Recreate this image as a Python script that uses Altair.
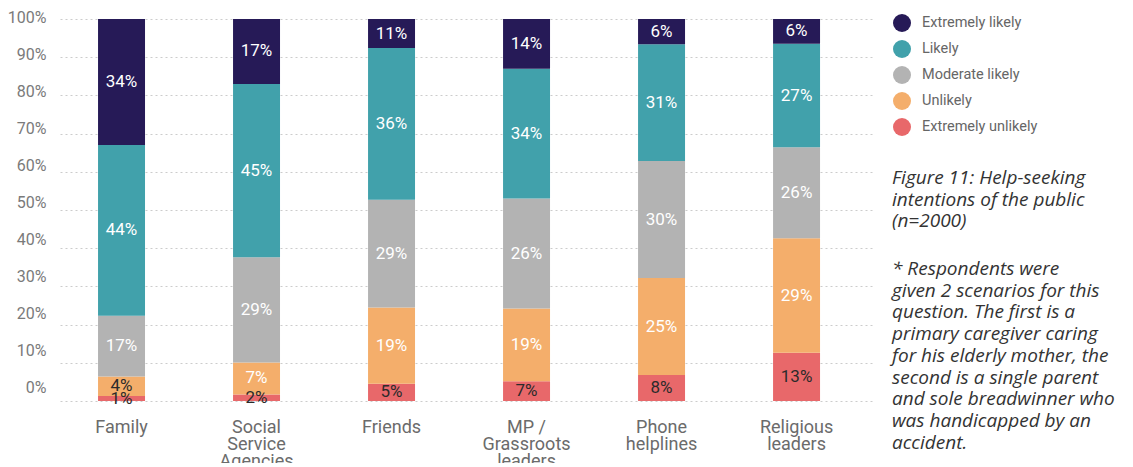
import altair as alt
import pandas as pd

# ---- data ----
sources = ["Family", "Social\nService\nAgencies", "Friends",
           "MP /\nGrassroots\nleaders", "Phone\nhelplines", "Religious\nleaders"]
responses = ["Extremely unlikely", "Unlikely", "Moderate likely", "Likely", "Extremely likely"]  # bottom -> top

# segment heights as drawn (share of each bar, %)
height_extremely_unlikely = [1.3, 1.7, 4.5, 5.2, 6.8, 12.6]
height_unlikely = [5.1, 8.4, 20.0, 19.0, 25.4, 30.0]
height_moderate_likely = [15.9, 27.5, 28.2, 28.8, 30.6, 23.8]
height_likely = [44.7, 45.4, 39.7, 34.0, 30.6, 27.1]
height_extremely_likely = [33.0, 17.0, 7.6, 13.0, 6.6, 6.5]

# percentages printed on the segments
label_extremely_unlikely = [1, 2, 5, 7, 8, 13]
label_unlikely = [4, 7, 19, 19, 25, 29]
label_moderate_likely = [17, 29, 29, 26, 30, 26]
label_likely = [44, 45, 36, 34, 31, 27]
label_extremely_likely = [34, 17, 11, 14, 6, 6]

colors = ["#e8686a", "#f4ae6b", "#b3b3b3", "#41a1ab", "#261a57"]
legend_order = list(reversed(responses))  # top -> bottom in legend
y_ticks = [0, 0.1, 0.2, 0.3, 0.4, 0.5, 0.6, 0.7, 0.8, 0.9, 1.0]

caption1 = ["Figure 11: Help-seeking", "intentions of the public", "(n=2000)"]
caption2 = ["* Respondents were", "given 2 scenarios for this", "question. The first is a",
            "primary caregiver caring", "for his elderly mother, the",
            "second is a single parent", "and sole breadwinner who",
            "was handicapped by an", "accident."]

heights = [height_extremely_unlikely, height_unlikely, height_moderate_likely,
           height_likely, height_extremely_likely]
label_vals = [label_extremely_unlikely, label_unlikely, label_moderate_likely,
              label_likely, label_extremely_likely]
rows = []
for oi, resp in enumerate(responses):
    for si, src in enumerate(sources):
        rows.append({"source": src, "response": resp, "share": heights[oi][si],
                     "value": label_vals[oi][si], "order": oi})
df = pd.DataFrame(rows)
legend_df = pd.DataFrame({"response": legend_order})
tick_df = pd.DataFrame({"tick": y_ticks})

color_scale = alt.Scale(domain=responses, range=colors)
FONT = "Roboto"

y_scale = alt.Scale(domain=[0, 1], nice=False)
# grid-only axis for the bars
y_axis = alt.Axis(values=y_ticks, labels=False, domain=False, ticks=False, orient="left",
                  gridColor="#cccccc", gridDash=[2, 3], gridWidth=1)

x_enc = alt.X("source:N", sort=sources, title=None,
              scale=alt.Scale(paddingInner=0.652, paddingOuter=0.337, align=0.418),
              axis=alt.Axis(labelAngle=0, domain=False, ticks=False,
                            labelExpr="split(datum.label, '\\n')",
                            labelFont=FONT, labelFontSize=18, labelColor="#6b6b6b",
                            labelLineHeight=17, labelPadding=17, labelBaseline="top"))

base = alt.Chart(df).transform_stack(
    stack="share", groupby=["source"], offset="normalize",
    sort=[alt.SortField("order", order="ascending")], as_=["y0", "y1"]
).transform_calculate(
    mid="(datum.y0 + datum.y1) / 2",
    label="datum.value + '%'"
)

bars = base.mark_bar().encode(
    x=x_enc,
    y=alt.Y("y0:Q", title=None, scale=y_scale, axis=y_axis),
    y2="y1:Q",
    color=alt.Color("response:N", scale=color_scale, legend=None),
)

labels = base.mark_text(font=FONT, fontSize=17, baseline="middle").encode(
    x=x_enc,
    y=alt.Y("mid:Q", title=None, scale=y_scale, axis=y_axis),
    text="label:N",
    color=alt.condition("datum.value < 5 || datum.response == 'Extremely unlikely'",
                        alt.value("#2b2b2b"), alt.value("white")),
)

main = alt.layer(bars, labels)

# tick-label axis: in the source the labels sit on a slightly tighter spacing than the grid
label_axis = alt.Chart(tick_df).mark_point(opacity=0).encode(
    y=alt.Y("tick:Q", title=None,
            scale=alt.Scale(domain=[0, 1], range=[368, -2], nice=False),
            axis=alt.Axis(values=y_ticks, format=".0%", domain=False, ticks=False,
                          grid=False, orient="left",
                          labelFont=FONT, labelFontSize=16, labelColor="#7a7a7a",
                          labelPadding=14)),
)

leg_y = alt.Y("response:N", sort=legend_order, axis=None,
              scale=alt.Scale(type="point", range=[4, 108], padding=0))

leg_dots = alt.Chart(legend_df).mark_circle(size=324, opacity=1).encode(
    x=alt.value(842),
    y=leg_y,
    color=alt.Color("response:N", scale=color_scale, legend=None),
)
leg_text = alt.Chart(legend_df).mark_text(
    align="left", baseline="middle", font=FONT, fontSize=14.5, color="#666666",
    limit=118, ellipsis=" "
).encode(
    x=alt.value(862),
    y=leg_y,
    text="response:N",
)

cap_style = dict(align="left", baseline="alphabetic", font="Open Sans", fontStyle="italic",
                 fontSize=19, color="#333333", lineHeight=21.7)

cap1 = alt.Chart(alt.Data(values=[{}])).mark_text(**cap_style).encode(
    x=alt.value(832), y=alt.value(165), text=alt.value(caption1))

cap2 = alt.Chart(alt.Data(values=[{}])).mark_text(**cap_style).encode(
    x=alt.value(832), y=alt.value(256), text=alt.value(caption2))

side = alt.layer(leg_dots, leg_text, cap1, cap2)

chart = alt.layer(main, label_axis, side).resolve_scale(y="independent").properties(
    width=813, height=382,
    autosize=alt.AutoSizeParams(type="none"),
    padding={"left": 52, "top": 11, "right": 250, "bottom": 62},
).configure_view(stroke=None)

chart.save("out.html", embed_options={"renderer": "svg", "actions": False})
